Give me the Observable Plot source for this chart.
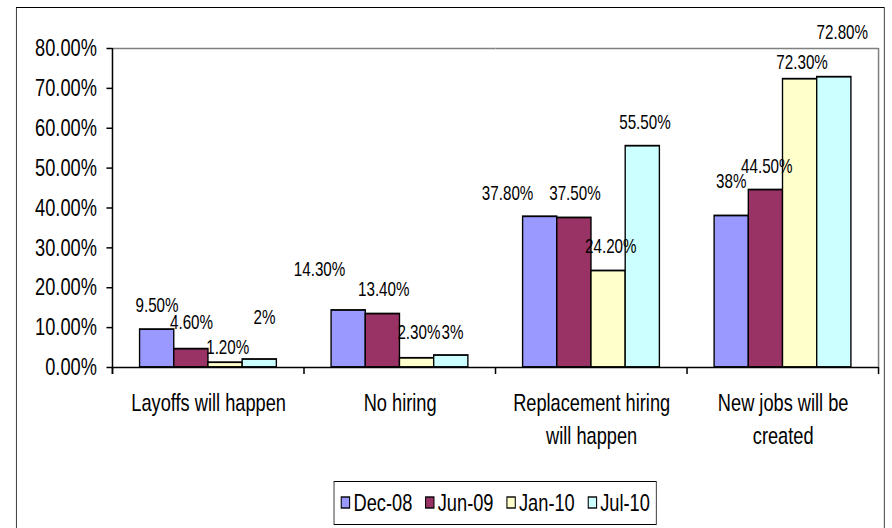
<!DOCTYPE html>
<html>
<head>
<meta charset="utf-8">
<script src="https://cdn.jsdelivr.net/npm/d3@7"></script>
<script src="https://cdn.jsdelivr.net/npm/@observablehq/plot@0.6"></script>
<style>
  html, body { margin:0; padding:0; background:#fff; overflow:hidden; }
  #wrap { position:relative; width:1173.68px; height:528px; transform:scaleX(0.76); transform-origin:0 0; font-family:"Liberation Sans", Arial, sans-serif; color:#000; }
  #wrap > svg { position:absolute; left:0; top:0; max-width:none; }
  #border { position:absolute; left:21px; top:7px; width:1142.6px; height:560px; border:1.4px solid #000; box-sizing:border-box; pointer-events:none; }
  #legend { position:absolute; left:438.6px; top:481.3px; width:425.5px; height:43.4px; border:1.5px solid #000; box-sizing:border-box; background:#fff; display:flex; align-items:center; padding-left:9.5px; overflow:visible; }
  #legend .lg-swatches { margin:0; min-height:0; font-family:"Liberation Sans", Arial, sans-serif; font-size:24px; color:#000; flex:none; flex-wrap:nowrap; white-space:nowrap; width:auto; }
  #legend .lg-swatch { margin-right:17.5px; flex:none; white-space:nowrap; }
  #legend .lg-swatch > svg { margin-right:5px !important; flex:none; }
  #legend svg rect { stroke:#000; stroke-width:1.4px; }
</style>
</head>
<body>
<div id="wrap"><div id="border"></div><div id="legend"></div></div>
<script>
// ---- data ----
const categories = ["Layoffs will happen", "No hiring", "Replacement hiring will happen", "New jobs will be created"];
const categoryLabels = ["Layoffs will happen", "No hiring", "Replacement hiring\nwill happen", "New jobs will be\ncreated"];
const series = ["Dec-08", "Jun-09", "Jan-10", "Jul-10"];
const dec08 = [9.5, 14.3, 37.8, 38];
const jun09 = [4.6, 13.4, 37.5, 44.5];
const jan10 = [1.2, 2.3, 24.2, 72.3];
const jul10 = [2, 3, 55.5, 72.8];
const dec08Text = ["9.50%", "14.30%", "37.80%", "38%"];
const jun09Text = ["4.60%", "13.40%", "37.50%", "44.50%"];
const jan10Text = ["1.20%", "2.30%", "24.20%", "72.30%"];
const jul10Text = ["2%", "3%", "55.50%", "72.80%"];
const yTicks = [0, 10, 20, 30, 40, 50, 60, 70, 80];
const yTickLabels = ["0.00%", "10.00%", "20.00%", "30.00%", "40.00%", "50.00%", "60.00%", "70.00%", "80.00%"];

// ---- style ----
const colors = ["#9999FF", "#993366", "#FFFFCC", "#CCFFFF"];
const S = 0.76;            // horizontal squeeze of the original picture
const W = 892 / S;
// label nudges [dx, dy] in screen px, per series, per category
const nudge = {
  "Dec-08": [[0, -24], [-29, -41], [-32.5, -23.5], [-0.3, -34]],
  "Jun-09": [[0.3, -26.6], [1, -24.2], [0.7, -24.7], [1, -23.4]],
  "Jan-10": [[2.3, -15.5], [2, -26.1], [2.3, -24.4], [2.1, -16.8]],
  "Jul-10": [[4.9, -42.3], [1.3, -23.3], [2.3, -23.9], [8.1, -44.8]]
};

const valuesBySeries = [dec08, jun09, jan10, jul10];
const textsBySeries = [dec08Text, jun09Text, jan10Text, jul10Text];
const rows = [];
series.forEach((s, i) => categories.forEach((c, j) => rows.push({
  series: s, category: c, value: valuesBySeries[i][j], label: textsBySeries[i][j],
  nx: nudge[s][j][0], ny: nudge[s][j][1]
})));

const plot = Plot.plot({
  width: W,
  height: 528,
  marginLeft: 112 / S,
  marginRight: W - 879.3 / S,
  marginTop: 48,
  marginBottom: 161,
  style: {fontFamily: "'Liberation Sans', Arial, sans-serif", fontSize: "24px", color: "#000", background: "transparent", overflow: "visible"},
  fx: {domain: categories, padding: 0, axis: null, label: null},
  x: {domain: series, paddingInner: 0, paddingOuter: 0.76, axis: null, label: null},
  y: {domain: [0, 80], axis: null, label: null},
  color: {domain: series, range: colors},
  marks: [
    Plot.ruleY([80], {stroke: "#808080", strokeWidth: 1.5}),
    Plot.barY(rows, {fx: "category", x: "series", y: "value", fill: "series", stroke: "#000", strokeWidth: 1.8}),
    Plot.ruleY([0], {stroke: "#000", strokeWidth: 1.5}),
    Plot.axisY({ticks: yTicks, tickFormat: d => yTickLabels[yTicks.indexOf(d)], tickSize: 6 / S, tickPadding: 10 / S, fontSize: 24, stroke: "#000", strokeWidth: 1.5, label: null}),
    Plot.axisFx({anchor: "bottom", tickSize: 0, tickPadding: 20, fontSize: 24, lineHeight: 1.375, tickFormat: d => categoryLabels[categories.indexOf(d)], label: null}),
    ...rows.map(r => Plot.text([r], {fx: "category", x: "series", y: "value", text: "label", dx: r.nx / S, dy: r.ny, fontSize: 20}))
  ]
});

// category boundary ticks, left axis line and right plot-area edge, from the plot's own scales
const fxS = plot.scale("fx");
const yS = plot.scale("y");
const bw = fxS.bandwidth != null ? fxS.bandwidth : (fxS.range[1] - fxS.range[0]) / categories.length;
const fxApply = fxS.apply ? fxS.apply : d3.scaleBand(fxS.domain, fxS.range);
const edges = categories.map(c => fxApply(c));
edges.push(edges[edges.length - 1] + bw);
const yApply = yS.apply ? yS.apply : d3.scaleLinear(yS.domain, yS.range);
const y0 = yApply(0), yTop = yApply(80);
const g = d3.select(plot).append("g");
g.append("line").attr("x1", edges[edges.length - 1]).attr("x2", edges[edges.length - 1])
  .attr("y1", yTop).attr("y2", y0).attr("stroke", "#808080").attr("stroke-width", 2);
g.append("line").attr("x1", edges[0]).attr("x2", edges[0])
  .attr("y1", yTop).attr("y2", y0 + 7).attr("stroke", "#000").attr("stroke-width", 2);
g.selectAll(".ctick").data(edges).join("line")
  .attr("x1", d => d).attr("x2", d => d).attr("y1", y0).attr("y2", y0 + 7)
  .attr("stroke", "#000").attr("stroke-width", 2);

document.getElementById("wrap").prepend(plot);

const legend = plot.legend("color", {legend: "swatches", swatchSize: 11, className: "lg"});
document.getElementById("legend").appendChild(legend);
</script>
</body>
</html>
